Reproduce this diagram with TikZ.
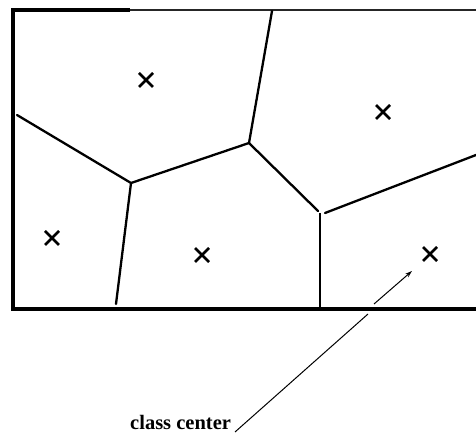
\documentclass[tikz,border=0pt]{standalone}
\usepackage{fontspec}
\setmainfont{Liberation Serif}
\usetikzlibrary{arrows.meta}
\tikzset{
  frame/.style={line width=3.2pt, line join=miter},
  thinframe/.style={line width=2.4pt, black!85},
  edge/.style={line width=2.3pt, line cap=round},
  pointer/.style={line width=1pt},
  center/.style={line width=2.8pt},
}
\newcommand{\cmark}[2]{%
  \draw[center] (#1-7,#2-7) -- (#1+7,#2+7) (#1-7,#2+7) -- (#1+7,#2-7);}
\begin{document}
\begin{tikzpicture}[x=1pt,y=-1pt]
\useasboundingbox (0,0) rectangle (476,435);
% frame
\draw[thinframe] (130,10) -- (476,10);
\draw[frame] (130,10) -- (13,10) -- (13,309) -- (476,309);
% voronoi vertices
\coordinate (v1) at (131,183);
\coordinate (v2) at (249,143);
\coordinate (v3) at (318,211);
\coordinate (l1) at (17,115);
\coordinate (b1) at (116,304);
\coordinate (t1) at (272,11);
\coordinate (b2) at (320,309);
\coordinate (r1) at (476,155);
\coordinate (v3b) at (320,213);
\coordinate (v3c) at (325,213);
\draw[edge] (l1) -- (v1) -- (v2) -- (t1);
\draw[edge] (v1) -- (b1);
\draw[edge] (v2) -- (v3);
\draw[line width=2.6pt] (v3b) -- (b2);
\draw[edge] (v3c) -- (r1);
% class centers
\cmark{146}{80}
\cmark{383}{112}
\cmark{52}{238}
\cmark{202}{255}
\cmark{430}{254}
% label and pointer
\node[anchor=base west, inner sep=0pt, font=\fontsize{20.5}{24}\selectfont\bfseries] (lbl) at (130,429) {class center};
\coordinate (a0) at (235,432);
\coordinate (g1) at (368,314);
\coordinate (g2) at (374,304);
\coordinate (tip) at (412,271);
\draw[pointer] (a0) -- (g1);
\draw[pointer, -{Stealth[length=7pt,width=4.5pt]}] (g2) -- (tip);
\end{tikzpicture}
\end{document}
